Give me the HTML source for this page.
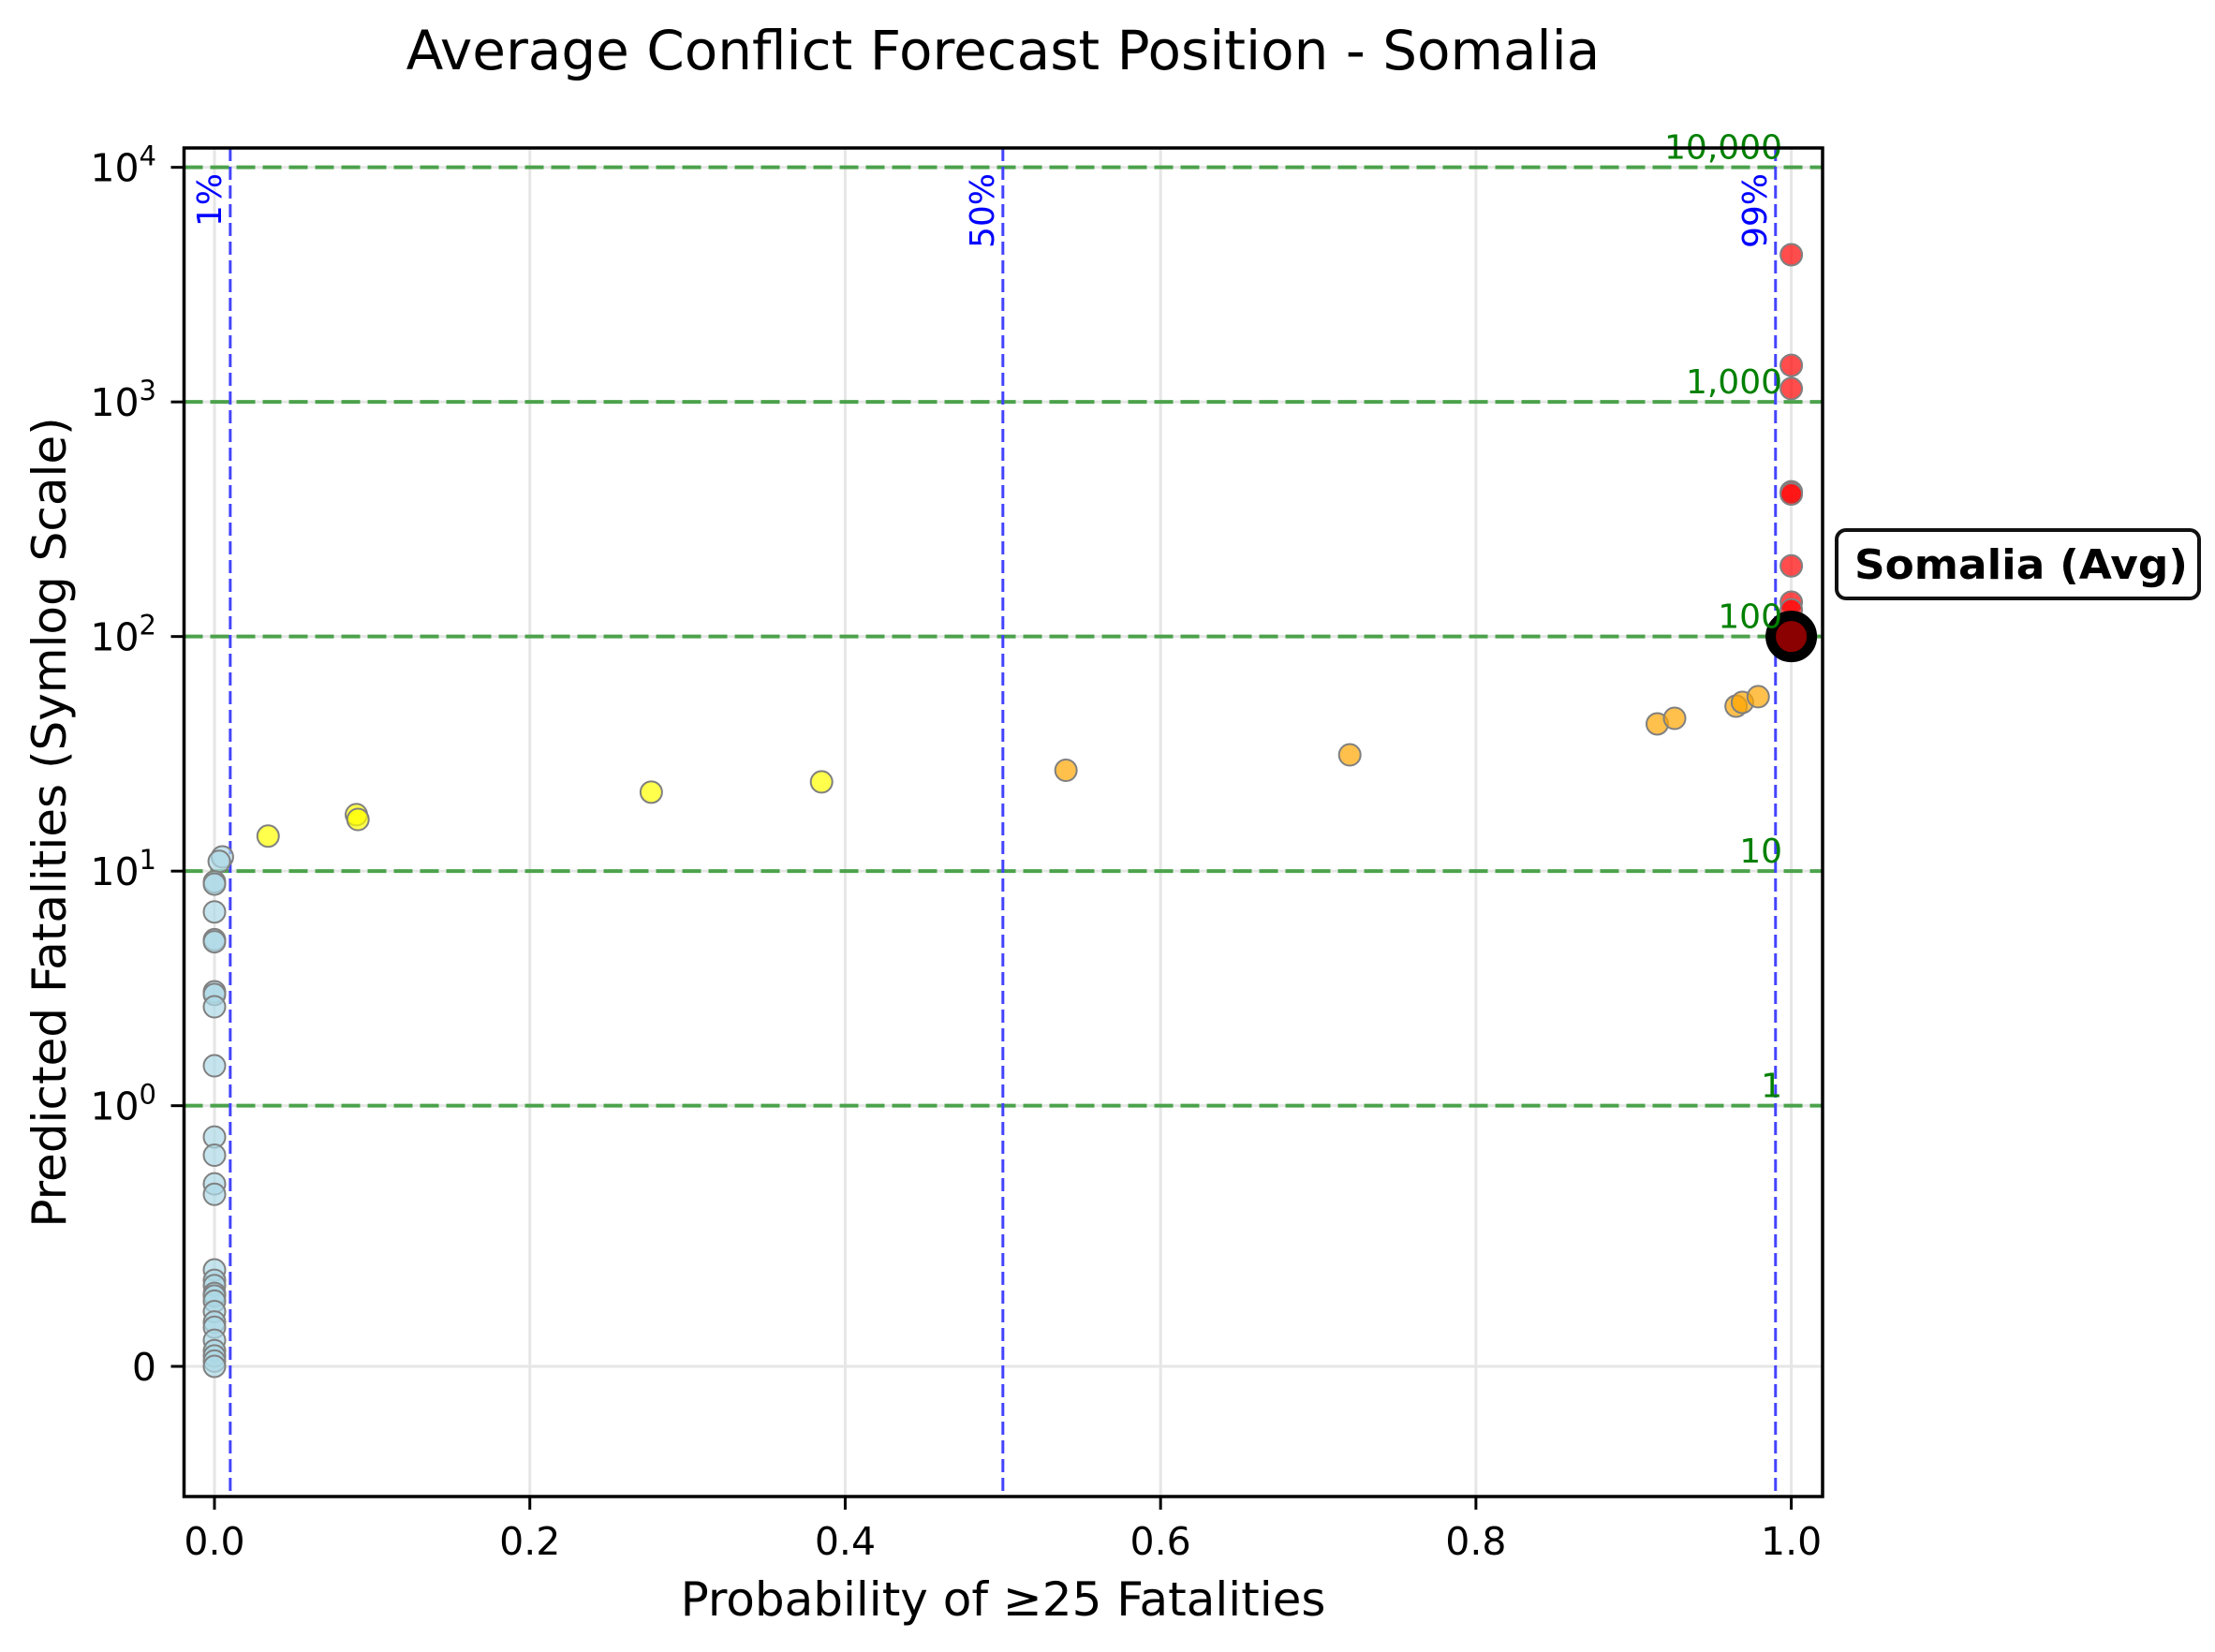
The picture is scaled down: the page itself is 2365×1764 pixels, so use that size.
<!DOCTYPE html>
<html><head><meta charset="utf-8"><style>
html,body{margin:0;padding:0;background:#fff;}
svg{display:block;font-family:"DejaVu Sans","Liberation Sans",sans-serif;}
</style></head><body>
<svg id="chart" xmlns="http://www.w3.org/2000/svg" width="2365" height="1764" viewBox="0 0 2365 1764">
<rect width="2365" height="1764" fill="#fff"/>
<g id="grid"></g><g id="refs"></g><g id="pts"></g><g id="labels"></g><g id="axes"></g>
<text x="1071" y="74" text-anchor="middle" font-size="58">Average Conflict Forecast Position - Somalia</text>
<text x="1071" y="1725" text-anchor="middle" font-size="50">Probability of ≥25 Fatalities</text>
<text x="0" y="0" transform="translate(70,878) rotate(-90)" text-anchor="middle" font-size="50">Predicted Fatalities (Symlog Scale)</text>
</svg>
<script>
const xTicks = [0, 0.2, 0.4, 0.6, 0.8, 1.0];
const xTickLabels = ["0.0","0.2","0.4","0.6","0.8","1.0"];
const yTicks = [0, 1, 10, 100, 1000, 10000];
const yTickBase = ["0","10","10","10","10","10"];
const yTickExp = ["","0","1","2","3","4"];
const refFatalities = [1, 10, 100, 1000, 10000];
const refFatLabels = ["1","10","100","1,000","10,000"];
const refProbs = [0.01, 0.5, 0.99];
const refProbLabels = ["1%","50%","99%"];
const blueP = [0.005,0.003,0,0,0,0,0,0,0,0,0,0,0,0,0,0,0,0,0,0,0,0,0,0,0,0,0,0,0];
const blueV = [11.5,11.0,9.0,8.8,6.7,5.1,5.0,3.06,2.98,2.64,1.48,0.88,0.81,0.70,0.66,0.37,0.33,0.31,0.28,0.27,0.25,0.21,0.17,0.15,0.10,0.06,0.04,0.02,0];
const yellowP = [0.034,0.09,0.091,0.277,0.385];
const yellowV = [14.1,17.4,16.6,21.7,24.0];
const orangeP = [0.540,0.720,0.915,0.926,0.965,0.969,0.979];
const orangeV = [26.9,31.3,42.4,44.8,50.5,52.4,55.4];
const redP = [1,1,1,1,1,1,1,1];
const redV = [4240,1432,1140,414,405,200,140,130];
const avgP = [1.0];
const avgV = [100];

const NS="http://www.w3.org/2000/svg";
const X0=229, XS=1683.6, Y0=1459, DEC=250.5;
const AX={l:196.5,r:1946,t:158,b:1598};
function sx(p){return X0+XS*p;}
function T(v){return v<=1 ? v/0.9 : 1/0.9+Math.log10(v);}
function sy(v){return Y0-DEC*T(v);}
function mk(tag,attrs,parent,txt){const e=document.createElementNS(NS,tag);for(const k in attrs)e.setAttribute(k,attrs[k]);if(txt!==undefined)e.textContent=txt;parent.appendChild(e);return e;}
const G=id=>document.getElementById(id);

xTicks.forEach((t,i)=>{const l=mk('line',{x1:sx(t),x2:sx(t),y1:AX.t,y2:AX.b,stroke:'#e6e6e6','stroke-width':3},G('grid'));

});
yTicks.forEach((t,i)=>{const l=mk('line',{x1:AX.l,x2:AX.r,y1:sy(t),y2:sy(t),stroke:'#e6e6e6','stroke-width':3},G('grid'));

});
refFatalities.forEach((v,i)=>{const l=mk('line',{x1:AX.l,x2:AX.r,y1:sy(v),y2:sy(v),stroke:'#3a9a3a','stroke-opacity':0.9,'stroke-width':4,'stroke-dasharray':'20 8'},G('refs'));


const t=mk('text',{x:1903,y:sy(v)-9,'text-anchor':'end','font-size':36,fill:'#008000'},G('labels'),refFatLabels[i]);

});
refProbs.forEach((p,i)=>{const l=mk('line',{x1:sx(p),x2:sx(p),y1:AX.t,y2:AX.b,stroke:'#4444ff','stroke-width':3,'stroke-dasharray':'14 6'},G('refs'));


const cx=sx(p)-10;
const t=mk('text',{x:0,y:0,transform:`translate(${cx},185) rotate(-90)`,'text-anchor':'end','font-size':36,fill:'#0000ff'},G('labels'),refProbLabels[i]);

});
function series(P,V,fill,name){P.forEach((p,i)=>{const c=mk('circle',{cx:sx(p),cy:sy(V[i]),r:11.5,fill:fill,'fill-opacity':0.7,stroke:'#808080','stroke-width':2},G('pts'));

});}
series(blueP,blueV,'#add8e6','low-risk-point');
series(yellowP,yellowV,'#ffff00','moderate-risk-point');
series(orangeP,orangeV,'#ffa500','high-risk-point');
series(redP,redV,'#ff0000','very-high-risk-point');
avgP.forEach((p,i)=>{const c=mk('circle',{cx:sx(p),cy:sy(avgV[i]),r:22,fill:'#8b0000',stroke:'#000','stroke-width':11},G('pts'));

});
const bx=mk('rect',{x:1961,y:566,width:387,height:73,rx:10,fill:'#fff',stroke:'#111','stroke-width':4},G('labels'));


const bt=mk('text',{x:1980,y:618,'font-size':44,'font-weight':'bold',fill:'#000',textLength:356,lengthAdjust:'spacingAndGlyphs'},G('labels'),'Somalia (Avg)');


const fr=mk('rect',{x:AX.l,y:AX.t,width:AX.r-AX.l,height:AX.b-AX.t,fill:'none',stroke:'#000','stroke-width':3.5},G('axes'));


xTicks.forEach((t,i)=>{mk('line',{x1:sx(t),x2:sx(t),y1:AX.b,y2:AX.b+14,stroke:'#000','stroke-width':3},G('axes'));
const tx=mk('text',{x:sx(t),y:1660,'text-anchor':'middle','font-size':41},G('axes'),xTickLabels[i]);

});
yTicks.forEach((t,i)=>{mk('line',{x1:AX.l-14,x2:AX.l,y1:sy(t),y2:sy(t),stroke:'#000','stroke-width':3},G('axes'));
const tx=mk('text',{x:167,y:sy(t)+15,'text-anchor':'end','font-size':41},G('axes'));


if(yTickExp[i]===''){tx.textContent=yTickBase[i];}
else{mk('tspan',{},tx,yTickBase[i]);mk('tspan',{dy:-17,'font-size':29},tx,yTickExp[i]);}});
</script>
</body></html>
